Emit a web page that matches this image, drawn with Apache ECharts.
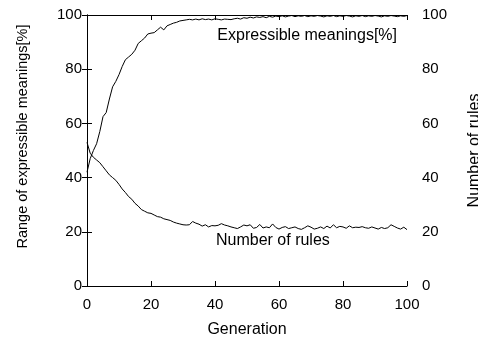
<!DOCTYPE html>
<html>
<head>
<meta charset="utf-8">
<script src="https://cdn.jsdelivr.net/npm/echarts@6/dist/echarts.min.js"></script>
<style>
  html, body { margin: 0; padding: 0; background: #fff; }
  #chart { width: 478px; height: 338px; }
</style>
</head>
<body>
<div id="chart"></div>
<script>
// generations 0..100
const generations = Array.from({ length: 101 }, (_, i) => i)

// range of expressible meanings [%] (left axis)
const expressible = [
  42, 47, 50, 52.5, 57, 62.5, 64, 69, 73.5, 75.5,
  78, 81, 83.5, 84.5, 85.5, 87, 89.5, 90.5, 91.5, 93,
  93.3, 93.5, 94.5, 95.5, 94.5, 96, 96.5, 97, 97.3, 97.8,
  98, 98.2, 98.4, 98.2, 98.5, 98.2, 98.6, 98.3, 98.5, 98.2,
  98.6, 98.4, 98.2, 98.5, 98.4, 98.3, 98.6, 98.8, 98.5, 99,
  98.8, 99.2, 98.9, 99.3, 99.1, 99.4, 99, 99.5, 99.2, 99.6,
  99.4, 99.7, 99.3, 99.6, 99.8, 99.4, 99.7, 99.5, 99.8, 99.4,
  99.7, 99.5, 99.8, 99.6, 99.3, 99.7, 99.5, 99.8, 99.4, 99.7,
  99.5, 99.8, 99.6, 99.3, 99.7, 99.5, 99.8, 99.4, 99.7, 99.5,
  99.8, 99.6, 99.3, 99.7, 99.5, 99.8, 99.6, 99.4, 99.7, 99.5,
  99.8
]

// number of rules (right axis)
const rules = [
  53, 49, 47.5, 46.5, 45.5, 44, 42.5, 41, 40, 39,
  37.5, 35.8, 34.5, 33, 32, 30.5, 29.5, 28.2, 27.6, 27,
  26.8, 26.2, 25.6, 25.4, 24.8, 24.5, 24.2, 23.6, 23.2, 22.9,
  22.6, 22.5, 22.6, 23.8, 23.2, 22.8, 22.1, 22.6, 21.8, 22.3,
  22.2, 22.4, 23, 22.5, 22.2, 21.8, 21.5, 21.2, 21.8, 22.5,
  22.2, 22.6, 21.3, 21.6, 22.7, 21.4, 21.8, 21.5, 22.9, 21.6,
  21.0, 21.6, 21.9, 21.2, 21.5, 21.8, 21.2, 20.9, 21.5, 22.2,
  21.7, 21.0, 21.3, 21.8, 21.2, 22.1, 21.4, 22.6, 21.5, 22.0,
  21.8, 21.3, 22.2, 21.5, 21.7, 21.6, 21.9, 21.5, 21.3, 21.8,
  21.4, 21.0, 21.6, 21.2, 21.5, 22.6, 22.0, 21.4, 21.0, 21.7,
  20.8
]

const font = 'Liberation Sans, Arial, sans-serif'

const chart = echarts.init(document.getElementById('chart'))

const yAxisCommon = {
  type: 'value',
  min: 0,
  max: 100,
  interval: 20,
  nameLocation: 'middle',
  axisLine: { show: true, lineStyle: { color: '#000', width: 1 } },
  axisTick: { show: true, inside: true, length: 5, lineStyle: { color: '#000' } },
  splitLine: { show: false }
}

chart.setOption({
  animation: false,
  grid: { left: 87, right: 71, top: 15, bottom: 52, containLabel: false, outerBoundsMode: 'none' },
  xAxis: [{
    type: 'value',
    min: 0,
    max: 100,
    interval: 20,
    name: 'Generation',
    nameLocation: 'middle',
    nameGap: 36,
    nameTextStyle: { color: '#000', fontSize: 16, fontFamily: font },
    axisLine: { show: true, onZero: false, lineStyle: { color: '#000', width: 1 } },
    axisTick: { show: true, inside: true, length: 5, lineStyle: { color: '#000' } },
    axisLabel: { color: '#000', fontSize: 15, fontFamily: font, margin: 11 },
    splitLine: { show: false }
  }, {
    type: 'value',
    position: 'top',
    min: 0,
    max: 100,
    interval: 20,
    axisLine: { show: true, onZero: false, lineStyle: { color: '#000', width: 1 } },
    axisTick: { show: true, inside: true, length: 5, lineStyle: { color: '#000' } },
    axisLabel: { show: false },
    splitLine: { show: false }
  }],
  yAxis: [Object.assign({}, yAxisCommon, {
    position: 'left',
    name: 'Range of expressible meanings[%]',
    nameGap: 57,
    // gnuplot puts this label a bit above the plot centre
    nameTextStyle: { color: '#000', fontSize: 14.5, fontFamily: font, padding: [0, 0, 0, 28] },
    axisLabel: { color: '#000', fontSize: 15, fontFamily: font, margin: 5 }
  }), Object.assign({}, yAxisCommon, {
    position: 'right',
    name: 'Number of rules',
    nameGap: 60,
    nameTextStyle: { color: '#000', fontSize: 16, fontFamily: font },
    axisLabel: { color: '#000', fontSize: 15, fontFamily: font, margin: 15 }
  })],
  graphic: [{
    type: 'text',
    right: 478 - 397,
    top: 28,
    style: { text: 'Expressible meanings[%]', fill: '#000', font: '16px ' + font }
  }, {
    type: 'text',
    left: 216,
    top: 233,
    style: { text: 'Number of rules', fill: '#000', font: '16px ' + font }
  }],
  series: [{
    name: 'Expressible meanings[%]',
    type: 'line',
    yAxisIndex: 0,
    showSymbol: false,
    data: generations.map((g, i) => [g, expressible[i]]),
    lineStyle: { color: '#000', width: 1 }
  }, {
    name: 'Number of rules',
    type: 'line',
    yAxisIndex: 1,
    showSymbol: false,
    data: generations.map((g, i) => [g, rules[i]]),
    lineStyle: { color: '#000', width: 1 }
  }]
})
</script>
</body>
</html>
